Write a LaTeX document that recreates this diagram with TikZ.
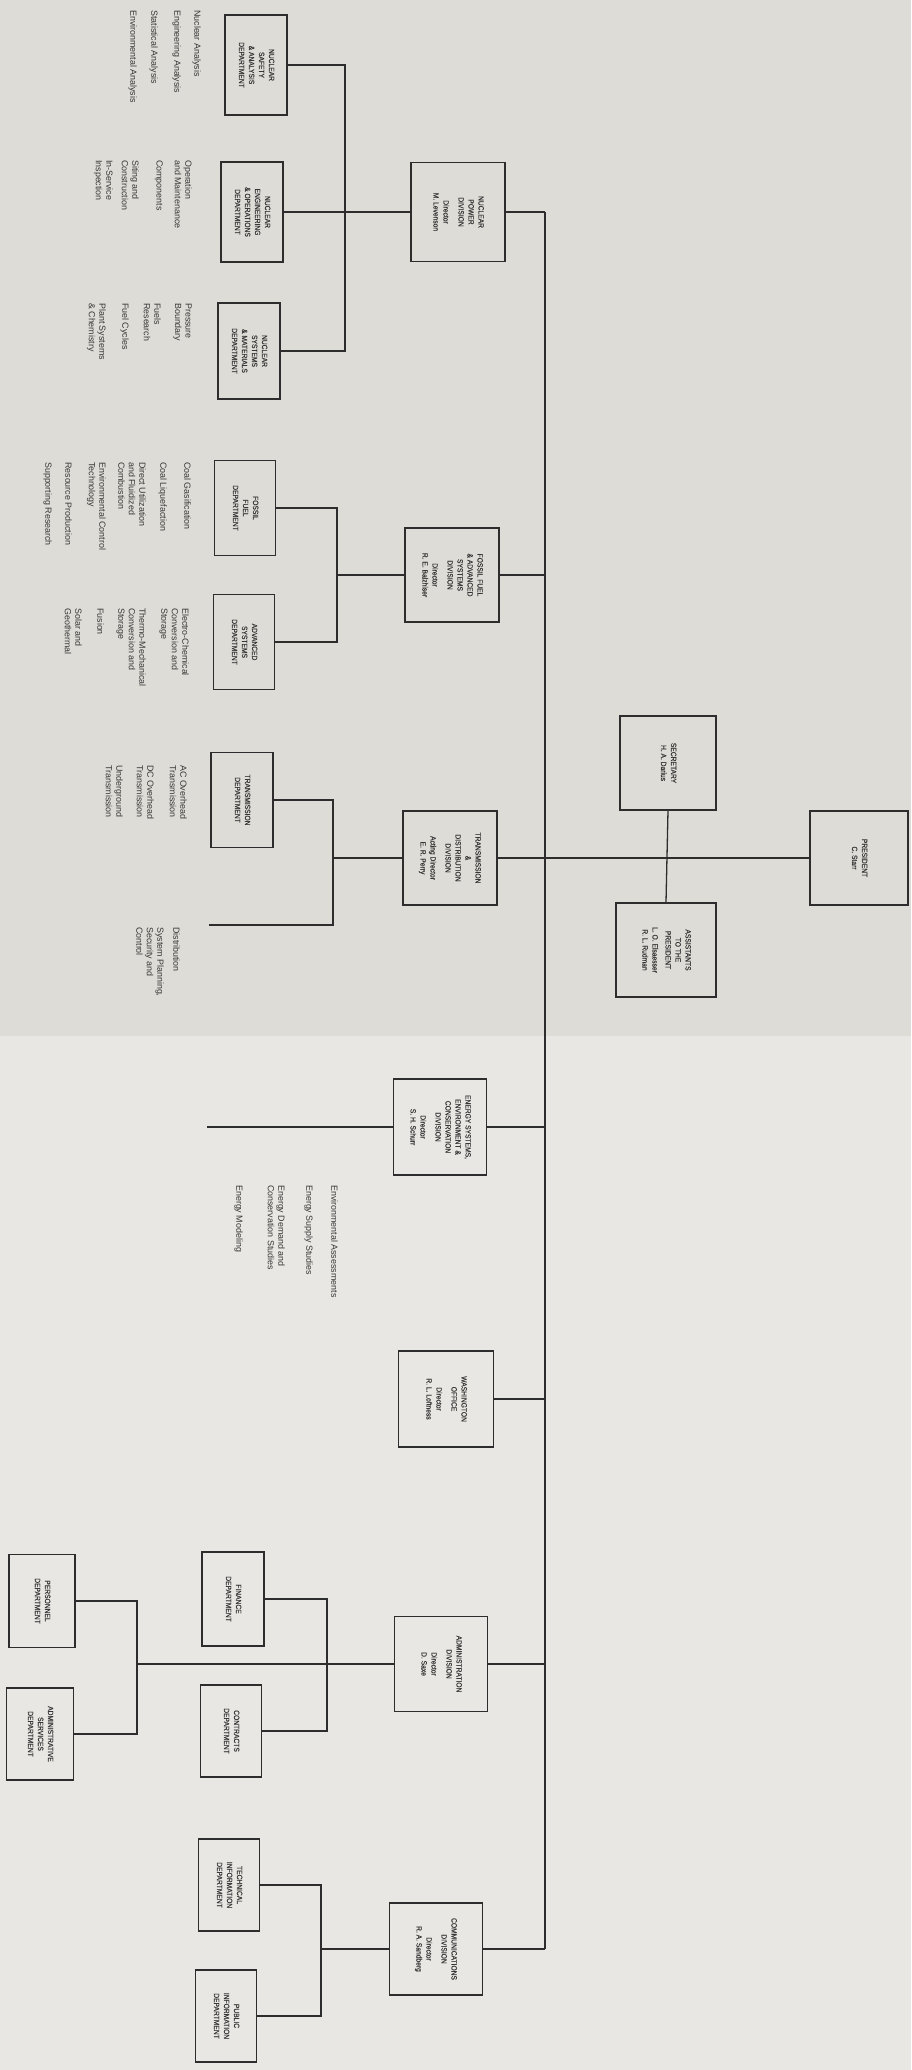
\documentclass[tikz,border=0pt]{standalone}
\usepackage{fontspec}
\setmainfont{Liberation Sans}
\newfontfamily\boxfont{Liberation Sans}[FakeStretch=0.88, FakeBold=0.5]
\definecolor{paper}{RGB}{222,220,215}
\definecolor{paperb}{RGB}{232,231,227}
\definecolor{ink}{RGB}{45,45,45}
\definecolor{txt}{RGB}{55,55,55}
\newcommand{\rottext}[1]{\rotatebox{-90}{\begin{tabular}{@{}c@{}}#1\end{tabular}}}
\begin{document}
\begin{tikzpicture}[x=1pt,y=-1pt,
 box/.style={draw=ink, line width=1.3pt, rectangle, inner sep=0pt, text=txt, font=\boxfont\fontsize{7.6}{10}\selectfont},
 lst/.style={rotate=-90, anchor=north west, inner sep=0pt, align=left, text=txt, font=\fontsize{8.9}{10.5}\selectfont},
 conn/.style={draw=ink, line width=1.3pt}]
\useasboundingbox (0,0) rectangle (911,2070);
\fill[paper] (0,0) rectangle (911,1036);
\fill[paperb] (0,1036) rectangle (911,2070);

% top level
\node[box, minimum width=98pt, minimum height=94pt] (pres) at (859,858) {\rottext{PRESIDENT\\C. Starr}};
\node[box, minimum width=96pt, minimum height=94pt] (sec) at (668,763) {\rottext{SECRETARY\\H. A. Darius}};
\node[box, minimum width=100pt, minimum height=94pt] (asst) at (666,950) {\rottext{ASSISTANTS\\TO THE\\PRESIDENT\\[3pt]L. O. Elsaesser\\R. L. Rudman}};

% divisions
\node[box, minimum width=94pt, minimum height=99pt] (nuc) at (458,212) {\rottext{NUCLEAR\\POWER\\DIVISION\\[5pt]Director\\M. Levenson}};
\node[box, minimum width=94pt, minimum height=94pt] (ffas) at (452,575) {\rottext{FOSSIL FUEL\\\& ADVANCED\\SYSTEMS\\DIVISION\\[5pt]Director\\R. E. Balzhiser}};
\node[box, minimum width=94pt, minimum height=94pt] (td) at (450,858) {\rottext{TRANSMISSION\\\&\\DISTRIBUTION\\DIVISION\\[5pt]Acting Director\\E. R. Perry}};
\node[box, minimum width=93pt, minimum height=96pt] (esd) at (440,1127) {\rottext{ENERGY SYSTEMS,\\ENVIRONMENT \&\\CONSERVATION\\DIVISION\\[5pt]Director\\S. H. Schurr}};
\node[box, minimum width=95pt, minimum height=96pt] (wash) at (446,1399) {\rottext{WASHINGTON\\OFFICE\\[5pt]Director\\R. L. Loftness}};
\node[box, minimum width=93pt, minimum height=95pt] (adm) at (441,1664) {\rottext{ADMINISTRATION\\DIVISION\\[5pt]Director\\D. Saxe}};
\node[box, minimum width=93pt, minimum height=92pt] (com) at (436,1949) {\rottext{COMMUNICATIONS\\DIVISION\\[5pt]Director\\R. A. Sandberg}};

% departments
\node[box, minimum width=62pt, minimum height=100pt] (nsa) at (256,65) {\rottext{NUCLEAR\\SAFETY\\\& ANALYSIS\\DEPARTMENT}};
\node[box, minimum width=62pt, minimum height=100pt] (neo) at (252,212) {\rottext{NUCLEAR\\ENGINEERING\\\& OPERATIONS\\DEPARTMENT}};
\node[box, minimum width=62pt, minimum height=96pt] (nsm) at (249,351) {\rottext{NUCLEAR\\SYSTEMS\\\& MATERIALS\\DEPARTMENT}};
\node[box, minimum width=61pt, minimum height=95pt] (ffd) at (245,508) {\rottext{FOSSIL\\FUEL\\DEPARTMENT}};
\node[box, minimum width=61pt, minimum height=95pt] (asd) at (244,642) {\rottext{ADVANCED\\SYSTEMS\\DEPARTMENT}};
\node[box, minimum width=62pt, minimum height=95pt] (trd) at (242,800) {\rottext{TRANSMISSION\\DEPARTMENT}};
\node[box, minimum width=62pt, minimum height=94pt] (fin) at (233,1599) {\rottext{FINANCE\\DEPARTMENT}};
\node[box, minimum width=61pt, minimum height=92pt] (con) at (231,1731) {\rottext{CONTRACTS\\DEPARTMENT}};
\node[box, minimum width=66pt, minimum height=93pt] (per) at (42,1601) {\rottext{PERSONNEL\\DEPARTMENT}};
\node[box, minimum width=67pt, minimum height=92pt] (ads) at (40,1734) {\rottext{ADMINISTRATIVE\\SERVICES\\DEPARTMENT}};
\node[box, minimum width=61pt, minimum height=92pt] (tech) at (229,1885) {\rottext{TECHNICAL\\INFORMATION\\DEPARTMENT}};
\node[box, minimum width=61pt, minimum height=92pt] (pub) at (226,2016) {\rottext{PUBLIC\\INFORMATION\\DEPARTMENT}};

% junctions and free ends
\coordinate (bt) at (545,212);
\coordinate (bb) at (545,1949);
\coordinate (nb) at (345,212);
\coordinate (fb) at (337,575);
\coordinate (tb) at (333,858);
\coordinate (dend) at (209,925);
\coordinate (eend) at (207,1127);
\coordinate (ab1) at (327,1664);
\coordinate (ab2) at (137,1664);
\coordinate (cb) at (321,1949);

% main bus
\draw[conn] (bt) -- (bb);
\draw[conn] (nuc.east) -- (nuc.east -| bt);
\draw[conn] (ffas.east) -- (ffas.east -| bt);
\draw[conn] (td.east) -- (pres.west);
\draw[conn] (esd.east) -- (esd.east -| bt);
\draw[conn] (wash.east) -- (wash.east -| bt);
\draw[conn] (adm.east) -- (adm.east -| bt);
\draw[conn] (com.east) -- (bb);
\draw[conn] (sec.south) -- (asst.north);

% nuclear
\draw[conn] (nsa.east) -- (nsa.east -| nb) -- (nsm.east -| nb) -- (nsm.east);
\draw[conn] (neo.east) -- (nuc.west);
% fossil
\draw[conn] (ffd.east) -- (ffd.east -| fb) -- (asd.east -| fb) -- (asd.east);
\draw[conn] (fb) -- (ffas.west);
% transmission
\draw[conn] (trd.east) -- (trd.east -| tb) -- (tb |- dend) -- (dend);
\draw[conn] (tb) -- (td.west);
% energy
\draw[conn] (esd.west) -- (eend);
% administration
\draw[conn] (fin.east) -- (fin.east -| ab1) -- (con.east -| ab1) -- (con.east);
\draw[conn] (per.east) -- (per.east -| ab2) -- (ads.east -| ab2) -- (ads.east);
\draw[conn] (adm.west) -- (ab2);
% communications
\draw[conn] (tech.east) -- (tech.east -| cb) -- (pub.east -| cb) -- (pub.east);
\draw[conn] (com.west) -- (cb);

% lists: nuclear safety
\node[lst] (l1) at (201,10) {Nuclear Analysis};
\node[lst] (l2) at (181,10) {Engineering Analysis};
\node[lst] (l3) at (158,10) {Statistical Analysis};
\node[lst] (l4) at (137,10) {Environmental Analysis};
% nuclear eng
\node[lst] (l5) at (192,160) {Operation\\and Maintenance};
\node[lst] (l6) at (163,160) {Components};
\node[lst] (l7) at (139,160) {Siting and\\Construction};
\node[lst] (l8) at (113,160) {In-Service\\Inspection};
% nuclear systems
\node[lst] (l9) at (192,303) {Pressure\\Boundary};
\node[lst] (l10) at (161,303) {Fuels\\Research};
\node[lst] (l11) at (129,303) {Fuel Cycles};
\node[lst] (l12) at (106,303) {Plant Systems\\\& Chemistry};
% fossil
\node[lst] (l13) at (191,462) {Coal Gasification};
\node[lst] (l14) at (167,462) {Coal Liquefaction};
\node[lst] (l15) at (146,462) {Direct Utilization\\and Fluidized\\Combustion};
\node[lst] (l16) at (106,462) {Environmental Control\\Technology};
\node[lst] (l17) at (72,462) {Resource Production};
\node[lst] (l18) at (52,462) {Supporting Research};
% advanced
\node[lst] (l19) at (189,608) {Electro-Chemical\\Conversion and\\Storage};
\node[lst] (l20) at (146,608) {Thermo-Mechanical\\Conversion and\\Storage};
\node[lst] (l21) at (104,608) {Fusion};
\node[lst] (l22) at (82,608) {Solar and\\Geothermal};
% transmission
\node[lst] (l23) at (187,765) {AC Overhead\\Transmission};
\node[lst] (l24) at (154,765) {DC Overhead\\Transmission};
\node[lst] (l25) at (123,765) {Underground\\Transmission};
% distribution
\node[lst] (l26) at (180,927) {Distribution};
\node[lst] (l27) at (164,927) {System Planning,\\Security and\\Control};
% energy systems
\node[lst] (l28) at (338,1185) {Environmental Assessments};
\node[lst] (l29) at (313,1185) {Energy Supply Studies};
\node[lst] (l30) at (285,1185) {Energy Demand and\\Conservation Studies};
\node[lst] (l31) at (243,1185) {Energy Modeling};
\end{tikzpicture}
\end{document}
